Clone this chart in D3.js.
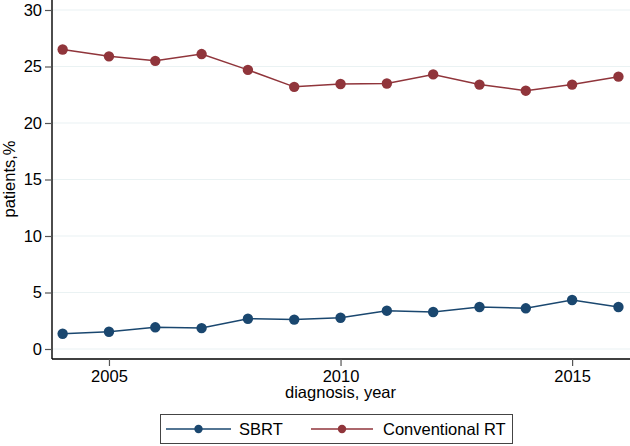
<!DOCTYPE html>
<html><head><meta charset="utf-8">
<script src="https://cdn.jsdelivr.net/npm/d3@7"></script>
<style>body{margin:0;background:#fff}svg{display:block}text{font-family:"Liberation Sans",Arial,Helvetica,sans-serif}</style>
</head><body>
<svg id="c" width="630" height="446"></svg>
<script>
const years = [2004,2005,2006,2007,2008,2009,2010,2011,2012,2013,2014,2015,2016];
const sbrt = [1.35,1.53,1.92,1.85,2.68,2.6,2.77,3.39,3.27,3.72,3.6,4.34,3.72];
const conv = [26.5,25.9,25.5,26.1,24.7,23.2,23.45,23.5,24.3,23.4,22.86,23.4,24.1];
const yTicks = [0,5,10,15,20,25,30];
const xTicks = [2005,2010,2015];
const seriesNames = ["SBRT","Conventional RT"];
const colors = ["#1a476f","#90353b"];

const svg = d3.select("#c");
const L=52, R=630, T=0, B=359;
const x = d3.scaleLinear().domain([2003.77,2016.25]).range([L,R]);
const y = d3.scaleLinear().domain([-0.885,30.885]).range([B,T]);

// grid
svg.append("g").selectAll("line").data(yTicks).join("line")
  .attr("x1",L).attr("x2",R).attr("y1",d=>y(d)).attr("y2",d=>y(d))
  .attr("stroke","#eaf2f3").attr("stroke-width",1.2);

// axes
const ya = svg.append("g").attr("transform",`translate(${L},0)`)
  .call(d3.axisLeft(y).tickValues(yTicks).tickSize(7).tickPadding(3).tickFormat(d3.format("d")));
const xa = svg.append("g").attr("transform",`translate(0,${B})`)
  .call(d3.axisBottom(x).tickValues(xTicks).tickSize(7).tickPadding(4).tickFormat(d3.format("d")));
[ya,xa].forEach(g=>{
  g.select(".domain").attr("stroke","#000").attr("stroke-width",1.4);
  g.selectAll(".tick line").attr("stroke","#555").attr("stroke-width",1.2);
  g.selectAll(".tick text").attr("font-size",16.5).attr("fill","#000");
});
ya.select(".domain").attr("d",`M0,${T}V${B}`);
xa.select(".domain").attr("d",`M${L},0H${R}`);

// titles
svg.append("text").attr("transform",`translate(15,179) rotate(-90)`)
  .attr("text-anchor","middle").attr("font-size",16.5).text("patients,%");
svg.append("text").attr("x",x(2010)).attr("y",398).attr("text-anchor","middle")
  .attr("font-size",16.5).text("diagnosis, year");

// series
const line = d3.line().x((d,i)=>x(years[i])).y(d=>y(d));
[sbrt,conv].forEach((s,k)=>{
  svg.append("path").datum(s).attr("d",line).attr("fill","none")
    .attr("stroke",colors[k]).attr("stroke-width",1.5);
  svg.append("g").selectAll("circle").data(s).join("circle")
    .attr("cx",(d,i)=>x(years[i])).attr("cy",d=>y(d)).attr("r",5.2).attr("fill",colors[k]);
});

// legend
svg.append("rect").attr("x",160.5).attr("y",414.5).attr("width",352).attr("height",29)
  .attr("fill","#fff").attr("stroke","#444").attr("stroke-width",1);
const legItems = [{x0:166,x1:231,tx:239},{x0:311,x1:373,tx:383}];
legItems.forEach((it,k)=>{
  const g = svg.append("g");
  g.append("line").attr("x1",it.x0).attr("x2",it.x1).attr("y1",429).attr("y2",429)
    .attr("stroke",colors[k]).attr("stroke-width",1.5);
  g.append("circle").attr("cx",(it.x0+it.x1)/2).attr("cy",429).attr("r",4.2).attr("fill",colors[k]);
  g.append("text").attr("x",it.tx).attr("y",435).attr("font-size",16.5).text(seriesNames[k]);
});
</script>
</body></html>
